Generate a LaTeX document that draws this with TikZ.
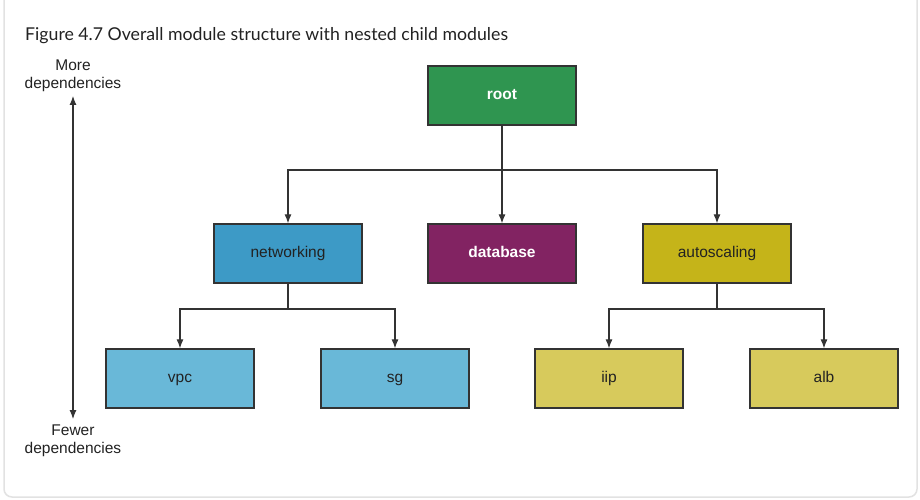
\documentclass[tikz,border=0pt]{standalone}
\usepackage{fontspec}
\setmainfont{Liberation Sans}
\newfontfamily\titlefont{Lato}
\usetikzlibrary{arrows.meta}
\definecolor{frameline}{HTML}{E2E2E2}
\definecolor{linec}{HTML}{333333}
\definecolor{rootc}{HTML}{2F9550}
\definecolor{netc}{HTML}{3D9AC6}
\definecolor{dbc}{HTML}{822362}
\definecolor{asc}{HTML}{C5B419}
\definecolor{netlc}{HTML}{69B8D8}
\definecolor{aslc}{HTML}{D7CA5C}
\definecolor{textc}{HTML}{222222}
\tikzset{
  x=1pt, y=-1pt,
  module/.style={draw=linec, line width=1.3pt, minimum width=148pt, minimum height=59pt, inner sep=0pt, text height=11pt, text depth=3pt, font=\fontsize{15.5}{17}\selectfont, text=textc},
  boldmod/.style={module, text=white, font=\fontsize{15.5}{17}\selectfont\bfseries},
  conn/.style={draw=linec, line width=1.1pt, -{Latex[length=9pt,width=7pt]}},
  plain/.style={draw=linec, line width=1.1pt},
  lbl/.style={font=\fontsize{15.5}{18}\selectfont, text=textc, align=center, inner sep=0pt},
}
\begin{document}
\begin{tikzpicture}
\useasboundingbox (0,0) rectangle (920,500);
\fill[white] (0,0) rectangle (920,500);
\draw[frameline, line width=1.5pt, rounded corners=8pt] (4,-20) rectangle (917,497);
\node[anchor=base west, inner sep=0pt, font=\titlefont\fontsize{17.7}{19}\selectfont, text=textc] (title) at (25,41) {Figure 4.7 Overall module structure with nested child modules};

\node[boldmod, fill=rootc] (root) at (502,95.5) {root};
\node[module, fill=netc] (net) at (288,253.5) {networking};
\node[boldmod, fill=dbc] (db) at (502,253.5) {database};
\node[module, fill=asc] (as) at (717,253.5) {autoscaling};
\node[module, fill=netlc] (vpc) at (180,378.5) {vpc};
\node[module, fill=netlc] (sg) at (395,378.5) {sg};
\node[module, fill=aslc] (iip) at (609,378.5) {iip};
\node[module, fill=aslc] (alb) at (824,378.5) {alb};

\coordinate (rj) at (502,170);
\coordinate (nj) at (288,309);
\coordinate (aj) at (717,309);

\draw[plain] (root.south) -- (rj);
\draw[conn] (rj) -| (net.north);
\draw[conn] (rj) -- (db.north);
\draw[conn] (rj) -| (as.north);

\draw[plain] (net.south) -- (nj);
\draw[conn] (nj) -| (vpc.north);
\draw[conn] (nj) -| (sg.north);

\draw[plain] (as.south) -- (aj);
\draw[conn] (aj) -| (iip.north);
\draw[conn] (aj) -| (alb.north);

\node[lbl] (more) at (73,76) {More\\dependencies};
\node[lbl] (fewer) at (73,441) {Fewer\\dependencies};
\coordinate (atop) at (73,96);
\coordinate (abot) at (73,419);
\draw[draw=linec, line width=1.1pt, {Latex[length=9pt,width=7pt]}-{Latex[length=9pt,width=7pt]}] (atop) -- (abot);
\end{tikzpicture}
\end{document}
